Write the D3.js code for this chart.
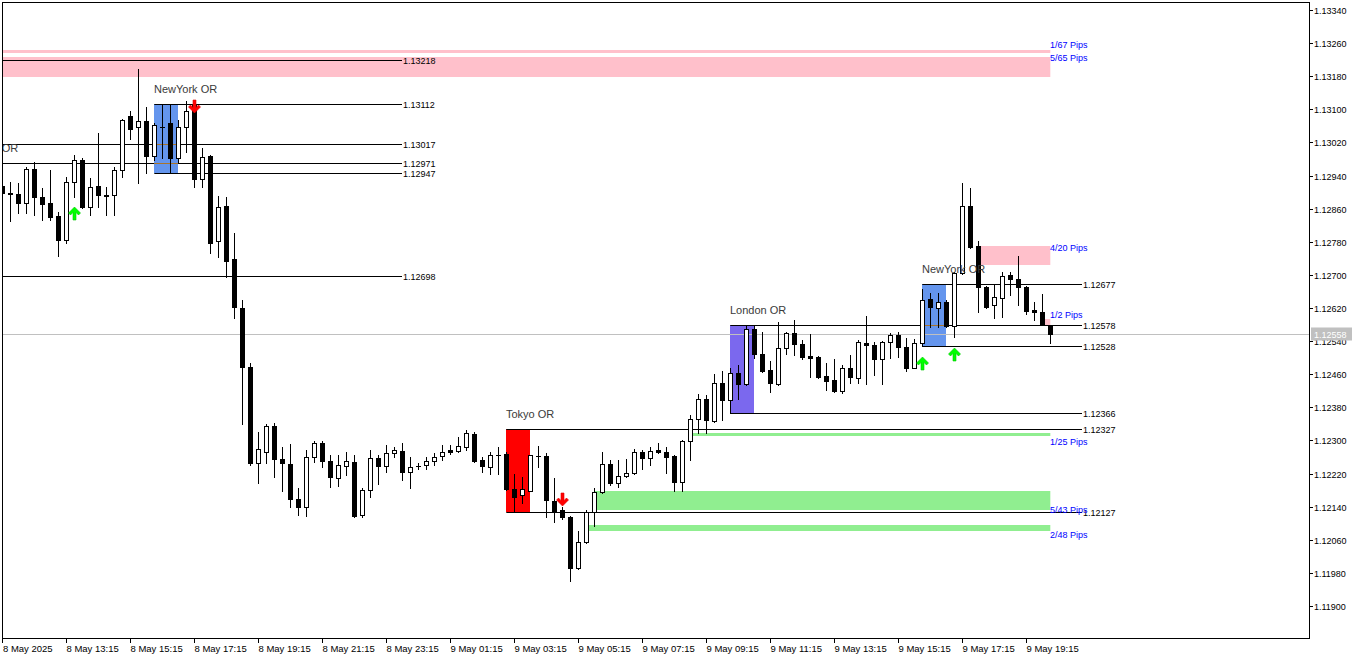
<!DOCTYPE html>
<html><head><meta charset="utf-8">
<script src="https://cdn.jsdelivr.net/npm/d3@7"></script>
<style>body{margin:0;background:#fff;}svg{display:block;}text{font-family:"Liberation Sans",Arial,sans-serif;}</style>
</head><body><svg id="c" width="1362" height="660"></svg>
<script>
// ---- DATA (EURUSD-like M15, 8 May 11:15 .. 9 May 19:45) ----
const opens=[1.12915,1.12898,1.12895,1.12874,1.12956,1.12888,1.12874,1.12842,1.12784,1.12924,
1.12978,1.12864,1.12915,1.12893,1.12893,1.12953,1.13084,1.13057,1.13072,1.12987,
1.13057,1.13067,1.12982,1.13057,1.13110,1.12932,1.12987,1.12782,1.12866,1.12738,
1.12620,1.12477,1.12246,1.12272,1.12335,1.12255,1.12243,1.12159,1.12139,1.12260,
1.12294,1.12250,1.12209,1.12238,1.12248,1.12120,1.12180,1.12258,1.12238,1.12270,
1.12275,1.12224,1.12238,1.12241,1.12250,1.12262,1.12277,1.12275,1.12284,1.12316,
1.12253,1.12236,1.12265,1.12267,1.12183,1.12168,1.12178,1.12262,1.12262,1.12154,
1.12132,1.12115,1.11992,1.12055,1.12127,1.12175,1.12243,1.12197,1.12214,1.12221,
1.12272,1.12258,1.12277,1.12272,1.12262,1.12200,1.12299,1.12352,1.12400,1.12347,
1.12439,1.12398,1.12463,1.12436,1.12569,1.12509,1.12470,1.12436,1.12523,1.12560,
1.12533,1.12504,1.12502,1.12456,1.12446,1.12419,1.12475,1.12451,1.12535,1.12531,
1.12497,1.12538,1.12555,1.12526,1.12475,1.12535,1.12642,1.12620,1.12635,1.12577,
1.12705,1.12866,1.12770,1.12671,1.12627,1.12644,1.12700,1.12690,1.12671,1.12615,
1.12610,1.12579];
const highs=[1.12924,1.12924,1.12922,1.12961,1.12973,1.12910,1.12953,1.12852,1.12937,1.12990,
1.12982,1.12934,1.13043,1.12912,1.12961,1.13077,1.13096,1.13197,1.13106,1.13067,
1.13112,1.13112,1.13074,1.13120,1.13113,1.13007,1.12990,1.12891,1.12888,1.12801,
1.12639,1.12487,1.12320,1.12340,1.12342,1.12284,1.12291,1.12185,1.12277,1.12299,
1.12299,1.12265,1.12265,1.12272,1.12265,1.12185,1.12277,1.12265,1.12289,1.12284,
1.12294,1.12260,1.12246,1.12260,1.12270,1.12289,1.12289,1.12308,1.12325,1.12320,
1.12260,1.12272,1.12284,1.12272,1.12219,1.12212,1.12266,1.12287,1.12270,1.12209,
1.12139,1.12117,1.12081,1.12132,1.12185,1.12272,1.12253,1.12253,1.12255,1.12279,
1.12277,1.12284,1.12294,1.12284,1.12265,1.12301,1.12361,1.12412,1.12410,1.12461,
1.12468,1.12475,1.12482,1.12578,1.12578,1.12562,1.12492,1.12586,1.12562,1.12591,
1.12543,1.12557,1.12504,1.12487,1.12497,1.12482,1.12506,1.12543,1.12601,1.12538,
1.12540,1.12560,1.12562,1.12548,1.12545,1.12665,1.12656,1.12656,1.12639,1.12707,
1.12922,1.12910,1.12782,1.12673,1.12675,1.12707,1.12707,1.12746,1.12673,1.12635,
1.12654,1.12580];
const lows=[1.12886,1.12830,1.12850,1.12850,1.12845,1.12833,1.12833,1.12746,1.12777,1.12888,
1.12862,1.12845,1.12864,1.12845,1.12845,1.12937,1.13028,1.12922,1.12946,1.12978,
1.12982,1.12947,1.12970,1.12997,1.12912,1.12912,1.12753,1.12743,1.12695,1.12596,
1.12340,1.12241,1.12197,1.12246,1.12212,1.12178,1.12139,1.12120,1.12117,1.12248,
1.12236,1.12188,1.12190,1.12217,1.12115,1.12115,1.12163,1.12195,1.12224,1.12260,
1.12204,1.12185,1.12231,1.12231,1.12241,1.12253,1.12267,1.12272,1.12277,1.12248,
1.12224,1.12219,1.12219,1.12180,1.12127,1.12149,1.12177,1.12236,1.12115,1.12103,
1.12110,1.11960,1.11989,1.12053,1.12093,1.12173,1.12192,1.12188,1.12212,1.12220,
1.12231,1.12241,1.12270,1.12221,1.12178,1.12178,1.12253,1.12318,1.12318,1.12345,
1.12349,1.12366,1.12400,1.12434,1.12499,1.12466,1.12417,1.12434,1.12509,1.12506,
1.12497,1.12453,1.12451,1.12422,1.12418,1.12415,1.12439,1.12439,1.12436,1.12458,
1.12436,1.12499,1.12502,1.12468,1.12474,1.12528,1.12574,1.12574,1.12574,1.12550,
1.12703,1.12766,1.12610,1.12620,1.12596,1.12598,1.12651,1.12627,1.12606,1.12591,
1.12578,1.12535];
const closes=[1.12898,1.12895,1.12874,1.12956,1.12888,1.12871,1.12840,1.12784,1.12924,1.12978,
1.12864,1.12912,1.12893,1.12891,1.12953,1.13074,1.13052,1.13072,1.12987,1.13062,
1.13057,1.12982,1.13057,1.13096,1.12932,1.12985,1.12777,1.12864,1.12734,1.12622,
1.12477,1.12246,1.12279,1.12335,1.12255,1.12246,1.12159,1.12139,1.12260,1.12294,
1.12250,1.12212,1.12241,1.12250,1.12117,1.12180,1.12258,1.12238,1.12270,1.12277,
1.12224,1.12236,1.12238,1.12250,1.12260,1.12272,1.12272,1.12287,1.12318,1.12250,
1.12238,1.12265,1.12265,1.12183,1.12163,1.12183,1.12265,1.12262,1.12156,1.12130,
1.12115,1.11992,1.12055,1.12127,1.12175,1.12243,1.12197,1.12214,1.12221,1.12272,
1.12258,1.12275,1.12272,1.12260,1.12200,1.12299,1.12352,1.12400,1.12349,1.12439,
1.12398,1.12463,1.12436,1.12569,1.12509,1.12468,1.12439,1.12523,1.12560,1.12533,
1.12502,1.12499,1.12453,1.12444,1.12419,1.12475,1.12453,1.12538,1.12531,1.12497,
1.12538,1.12555,1.12526,1.12475,1.12535,1.12639,1.12622,1.12635,1.12577,1.12705,
1.12866,1.12767,1.12671,1.12622,1.12647,1.12697,1.12690,1.12671,1.12613,1.12610,
1.12579,1.12558];

const xTickIdx=[0,8,16,24,32,40,48,56,64,72,80,88,96,104,112,120,128];
const xTickLabels=["8 May 2025","8 May 13:15","8 May 15:15","8 May 17:15","8 May 19:15","8 May 21:15","8 May 23:15","9 May 01:15","9 May 03:15","9 May 05:15","9 May 07:15","9 May 09:15","9 May 11:15","9 May 13:15","9 May 15:15","9 May 17:15","9 May 19:15"];
const yTickValues=[1.13340,1.13260,1.13180,1.13100,1.13020,1.12940,1.12860,1.12780,1.12700,1.12620,1.12540,1.12460,1.12380,1.12300,1.12220,1.12140,1.12060,1.11980,1.11900];

// Opening-range sessions
const sessionNames=["London OR","NewYork OR","Tokyo OR","London OR","NewYork OR"];
const sessionStart=[-5,19,63,91,115];
const sessionHigh=[1.12971,1.13112,1.12327,1.12578,1.12677];
const sessionLow=[1.12698,1.12947,1.12127,1.12366,1.12528];
const sessionLen=3;

// Labelled horizontal levels
const levelPrices=[1.13218,1.13112,1.13017,1.12971,1.12947,1.12698,1.12677,1.12578,1.12528,1.12366,1.12327,1.12127];
const levelStart=[-12,19,-12,-5,19,-5,115,91,115,91,63,63];
const levelEnd=[50,50,50,50,50,50,135,135,135,135,135,135];

// Supply / demand zones
const zoneType=["supply","supply","supply","supply","demand","demand","demand"];
const zoneTop=[1.13243,1.13226,1.12770,1.12593,1.12318,1.12178,1.12096];
const zoneBottom=[1.13236,1.13178,1.12724,1.12579,1.12311,1.12132,1.12081];
const zoneStart=[-12,-12,122,130,86,74,73];
const zoneEnd=[131,131,131,131,131,131,131];
const zoneLabels=["1/67 Pips","5/65 Pips","4/20 Pips","1/2 Pips","1/25 Pips","5/43 Pips","2/48 Pips"];
const zoneLabelPrice=[1.13248,1.13217,1.12758,1.12596,1.12289,1.12125,1.12064];

// Signal arrows
const arrowIdx=[9,24,70,115,119];
const arrowDir=["up","down","down","up","up"];
const arrowPrice=[1.12864,1.13091,1.12142,1.12502,1.12523];

const bidPrice=1.12558;

// ---- DRAW ----
const svg=d3.select("#c");
const L=2, T=2, R=1309, B=638;
const x=d3.scaleLinear().domain([0,131]).range([2.3,1050.3]);
const y=d3.scaleLinear().domain([1.11900,1.13340]).range([606,10]);
const sessColor={"Tokyo OR":"#ff0000","London OR":"#7b68ee","NewYork OR":"#6495ed"};
const zoneColor={supply:"#ffc0cb",demand:"#90ee90"};

svg.append("rect").attr("width",1362).attr("height",660).attr("fill","#fff");
svg.append("clipPath").attr("id","clip").append("rect").attr("x",L+1).attr("y",T+1).attr("width",R-L-1).attr("height",B-T-1);
const g=svg.append("g").attr("clip-path","url(#clip)");

// zones
zoneType.forEach((t,k)=>{
  g.append("rect").attr("x",x(zoneStart[k])).attr("width",x(zoneEnd[k])-x(zoneStart[k]))
   .attr("y",Math.round(y(zoneTop[k]))).attr("height",Math.max(2,Math.round(y(zoneBottom[k]))-Math.round(y(zoneTop[k]))))
   .attr("fill",zoneColor[t]);
});
// session boxes
sessionNames.forEach((n,k)=>{
  const x0=Math.round(x(sessionStart[k])), x1=Math.round(x(sessionStart[k]+sessionLen));
  const y0=Math.round(y(sessionHigh[k])), y1=Math.round(y(sessionLow[k]));
  g.append("rect").attr("x",x0).attr("y",y0).attr("width",x1-x0).attr("height",y1-y0).attr("fill",sessColor[n]);
});
// levels
levelPrices.forEach((p,k)=>{
  const yy=Math.round(y(p))+0.5;
  g.append("line").attr("x1",x(levelStart[k])).attr("x2",Math.round(x(levelEnd[k])))
   .attr("y1",yy).attr("y2",yy).attr("stroke","#000").attr("stroke-width",1);
  // inner segments through boxes drawn in blended tone
  sessionNames.forEach((n,s)=>{
    const a=sessionStart[s], b=sessionStart[s]+sessionLen;
    if(p<sessionHigh[s]-0.00001 && p>sessionLow[s]+0.00001 && levelStart[k]<b && levelEnd[k]>a){
      g.append("line").attr("x1",Math.round(x(Math.max(a,levelStart[k])))).attr("x2",Math.round(x(b)))
       .attr("y1",yy).attr("y2",yy).attr("stroke","#a8742c").attr("stroke-width",1);
    }
  });
  svg.append("text").attr("x",Math.round(x(levelEnd[k]))+1).attr("y",yy+3).attr("font-size",9).attr("fill","#000").text(p.toFixed(5));
});
// bid line
const yb=Math.round(y(bidPrice))+0.5;
g.append("line").attr("x1",L).attr("x2",R).attr("y1",yb).attr("y2",yb).attr("stroke","#c0c0c0");

// candles
opens.forEach((o,i)=>{
  const c=closes[i], h=highs[i], l=lows[i];
  const cx=Math.round(x(i));
  const yH=Math.round(y(h)), yL=Math.round(y(l));
  const top=Math.round(y(Math.max(o,c))), bot=Math.round(y(Math.min(o,c)));
  g.append("line").attr("x1",cx+0.5).attr("x2",cx+0.5).attr("y1",yH).attr("y2",yL+1).attr("stroke","#000");
  if(c>o){
    g.append("rect").attr("x",cx-1.5).attr("y",top+0.5).attr("width",4).attr("height",Math.max(1,bot-top))
     .attr("fill","#fff").attr("stroke","#000");
  } else if(c<o){
    g.append("rect").attr("x",cx-2).attr("y",top).attr("width",5).attr("height",Math.max(1,bot-top+1)).attr("fill","#000");
  } else {
    g.append("line").attr("x1",cx-2).attr("x2",cx+3).attr("y1",top+0.5).attr("y2",top+0.5).attr("stroke","#000");
  }
});

// arrows
const upPts=[[0,0],[6,6],[4,8],[1.5,5.5],[1.5,13],[-1.5,13],[-1.5,5.5],[-4,8],[-6,6]];
arrowIdx.forEach((i,k)=>{
  const cx=Math.round(x(i))+0.5, ty=Math.round(y(arrowPrice[k]));
  const s=arrowDir[k]==="up"?1:-1;
  const pts=upPts.map(p=>[cx+p[0],ty+s*p[1]]);
  g.append("polygon").attr("points",pts.map(p=>p.join(",")).join(" "))
   .attr("fill",s>0?"#00ff00":"#ff0000").attr("stroke",s>0?"#00c800":"#e00000").attr("stroke-width",0.6);
});

// session labels
sessionNames.forEach((n,k)=>{
  g.append("text").attr("x",Math.round(x(sessionStart[k]))).attr("y",Math.round(y(sessionHigh[k]))-11)
   .attr("font-size",11).attr("fill","#3a3a3a").text(n);
});
// zone labels
zoneLabels.forEach((t,k)=>{
  svg.append("text").attr("x",Math.round(x(zoneEnd[k]))).attr("y",Math.round(y(zoneLabelPrice[k])))
   .attr("font-size",9).attr("fill","#0000ff").text(t);
});

// frame
svg.append("rect").attr("x",L+0.5).attr("y",T+0.5).attr("width",R-L).attr("height",B-T).attr("fill","none").attr("stroke","#000");

// y axis
yTickValues.forEach(v=>{
  const yy=Math.round(y(v))+0.5;
  svg.append("line").attr("x1",R).attr("x2",R+4).attr("y1",yy).attr("y2",yy).attr("stroke","#000");
  svg.append("text").attr("x",R+5).attr("y",yy+3.5).attr("font-size",9).attr("fill","#000").text(v.toFixed(5));
});
// bid label
svg.append("rect").attr("x",R+2).attr("y",yb-7).attr("width",41).attr("height",13).attr("fill","#c0c0c0");
svg.append("text").attr("x",R+5).attr("y",yb+3.5).attr("font-size",9).attr("fill","#fff").text(bidPrice.toFixed(5));

// x axis
xTickIdx.forEach((i,k)=>{
  const xx=Math.round(x(i))+0.5;
  svg.append("line").attr("x1",xx).attr("x2",xx).attr("y1",B).attr("y2",B+5).attr("stroke","#000");
  svg.append("text").attr("x",Math.max(xx,L+1)).attr("y",B+14).attr("font-size",9.5).attr("fill","#000").text(xTickLabels[k]);
});
</script></body></html>
